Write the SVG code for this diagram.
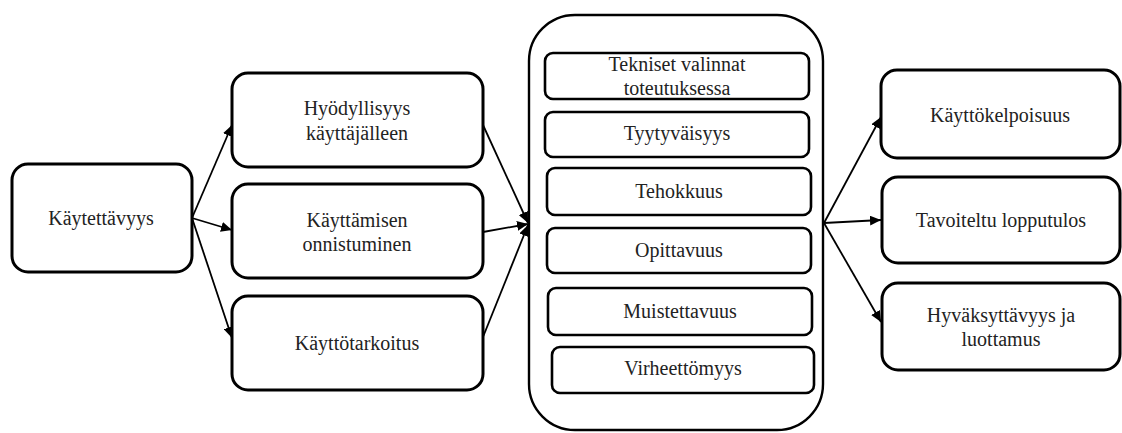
<svg xmlns="http://www.w3.org/2000/svg" width="1122" height="433" viewBox="0 0 1122 433">
  <style>
    .box { fill: #ffffff; stroke: #000000; stroke-width: 3; }
    .inner { fill: #ffffff; stroke: #000000; stroke-width: 2.6; }
    .frame { fill: #ffffff; stroke: #000000; stroke-width: 2.4; }
    .lbl { font-family: 'Liberation Serif', 'DejaVu Serif', serif; font-size: 20px; fill: #222222; text-anchor: middle; }
    .link { fill: none; stroke: #000000; stroke-width: 1.8; marker-end: url(#head); }
  </style>
  <defs>
    <marker id="head" markerUnits="userSpaceOnUse" markerWidth="12" markerHeight="10" refX="11" refY="5" orient="auto">
      <path d="M0,0 L11,5 L0,10 Z" fill="#000000"/>
    </marker>
  </defs>
  <rect width="1122" height="433" fill="#ffffff"/>

  <g id="connectors">
    <line class="link" x1="192" y1="218" x2="232" y2="125"/>
    <line class="link" x1="192" y1="218" x2="232" y2="230"/>
    <line class="link" x1="192" y1="218" x2="232" y2="338"/>
    <line class="link" x1="483" y1="125" x2="528" y2="223"/>
    <line class="link" x1="483" y1="232" x2="528" y2="224"/>
    <line class="link" x1="483" y1="337" x2="528" y2="225"/>
    <line class="link" x1="824" y1="223" x2="881" y2="117"/>
    <line class="link" x1="824" y1="223" x2="881" y2="220"/>
    <line class="link" x1="824" y1="223" x2="881" y2="322"/>
  </g>

  <g id="kaytettavyys">
    <rect class="box" x="12" y="164" width="180" height="108" rx="16"/>
    <text class="lbl" x="101" y="225">Käytettävyys</text>
  </g>

  <g id="hyodyllisyys">
    <rect class="box" x="232" y="73" width="251" height="94" rx="16"/>
    <text class="lbl" x="357" y="115">Hyödyllisyys</text>
    <text class="lbl" x="357" y="140">käyttäjälleen</text>
  </g>
  <g id="kayttamisen">
    <rect class="box" x="232" y="184" width="251" height="94" rx="16"/>
    <text class="lbl" x="357" y="227">Käyttämisen</text>
    <text class="lbl" x="357" y="251">onnistuminen</text>
  </g>
  <g id="kayttotarkoitus">
    <rect class="box" x="232" y="296" width="251" height="94" rx="16"/>
    <text class="lbl" x="357" y="350">Käyttötarkoitus</text>
  </g>

  <g id="ominaisuudet">
    <rect class="frame" x="529" y="15" width="294" height="415" rx="46"/>
  </g>
  <g id="tekniset">
    <rect class="inner" x="545" y="53" width="264" height="46" rx="8"/>
    <text class="lbl" x="677" y="71">Tekniset valinnat</text>
    <text class="lbl" x="677" y="95">toteutuksessa</text>
  </g>
  <g id="tyytyvaisyys">
    <rect class="inner" x="545" y="112" width="264" height="45" rx="8"/>
    <text class="lbl" x="677" y="140">Tyytyväisyys</text>
  </g>
  <g id="tehokkuus">
    <rect class="inner" x="547" y="168" width="264" height="47" rx="8"/>
    <text class="lbl" x="679" y="198">Tehokkuus</text>
  </g>
  <g id="opittavuus">
    <rect class="inner" x="547" y="228" width="264" height="45" rx="8"/>
    <text class="lbl" x="679" y="257">Opittavuus</text>
  </g>
  <g id="muistettavuus">
    <rect class="inner" x="548" y="288" width="264" height="47" rx="8"/>
    <text class="lbl" x="680" y="318">Muistettavuus</text>
  </g>
  <g id="virheettomyys">
    <rect class="inner" x="552" y="347" width="262" height="46" rx="8"/>
    <text class="lbl" x="683" y="375">Virheettömyys</text>
  </g>

  <g id="kayttokelpoisuus">
    <rect class="box" x="881" y="70" width="239" height="88" rx="16"/>
    <text class="lbl" x="1000" y="122">Käyttökelpoisuus</text>
  </g>
  <g id="tavoiteltu">
    <rect class="box" x="882" y="177" width="238" height="86" rx="16"/>
    <text class="lbl" x="1001" y="227">Tavoiteltu lopputulos</text>
  </g>
  <g id="hyvaksyttavyys">
    <rect class="box" x="882" y="283" width="238" height="87" rx="16"/>
    <text class="lbl" x="1001" y="322">Hyväksyttävyys ja</text>
    <text class="lbl" x="1001" y="346">luottamus</text>
  </g>
</svg>
